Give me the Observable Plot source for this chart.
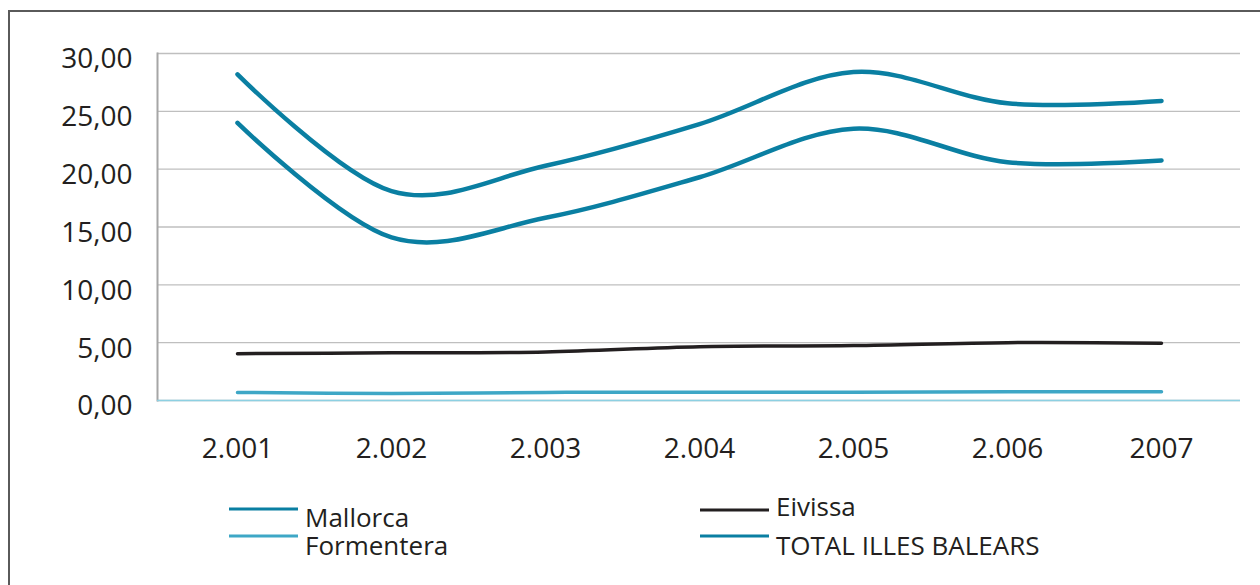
<!DOCTYPE html>
<html>
<head>
<meta charset="utf-8">
<script src="https://cdn.jsdelivr.net/npm/d3@7"></script>
<script src="https://cdn.jsdelivr.net/npm/@observablehq/plot@0.6"></script>
<style>
  html, body { margin: 0; padding: 0; background: #fff; }
  #wrap { position: relative; width: 1260px; height: 585px; overflow: hidden; background: #fff; font-family: "Open Sans", sans-serif; }
  #frame { position: absolute; left: 8px; top: 10px; width: 1300px; height: 700px; border-left: 2px solid #5a5a5a; border-top: 2px solid #5a5a5a; box-sizing: border-box; }
  #chart { position: absolute; left: 0; top: 0; }
  #legend { position: absolute; left: 0; top: 480px; }
</style>
</head>
<body>
<div id="wrap">
  <div id="frame"></div>
  <div id="chart"></div>
  <svg id="legend" width="1260" height="105"></svg>
</div>
<script>
// ---- data ----
const years = ["2.001", "2.002", "2.003", "2.004", "2.005", "2.006", "2007"];
const mallorca   = [24.0, 14.1, 15.8, 19.3, 23.5, 20.6, 20.75];
const eivissa    = [4.05, 4.12, 4.2, 4.65, 4.75, 5.0, 4.95];
const formentera = [0.7, 0.6, 0.7, 0.72, 0.72, 0.75, 0.75];
const total      = [28.2, 18.1, 20.3, 23.9, 28.4, 25.7, 25.9];
const yTicks = [0, 5, 10, 15, 20, 25, 30];
const seriesNames = ["Mallorca", "Eivissa", "Formentera", "TOTAL ILLES BALEARS"];

const series = [
  {name: "Formentera", values: formentera, color: "#3ea7c6", width: 3.5},
  {name: "Eivissa", values: eivissa, color: "#231f20", width: 3.5},
  {name: "Mallorca", values: mallorca, color: "#0a7fa2", width: 4.5},
  {name: "TOTAL ILLES BALEARS", values: total, color: "#0a7fa2", width: 4.5}
];

const rowsOf = s => years.map((y, i) => ({year: y, value: s.values[i], series: s.name}));

const curve = d3.curveCatmullRom.alpha(0);

const chart = Plot.plot({
  width: 1260,
  height: 480,
  marginLeft: 157,
  marginRight: 20,
  marginTop: 53,
  marginBottom: 80,
  style: {fontFamily: "'Open Sans', sans-serif", fontSize: "28px", color: "#231f20", background: "transparent", overflow: "visible"},
  x: {type: "point", domain: years, padding: 0.5, label: null},
  y: {domain: [0, 30], label: null},
  marks: [
    Plot.gridY(yTicks, {stroke: "#bfbfbf", strokeOpacity: 1, strokeWidth: 1.3}),
    Plot.frame({anchor: "left", stroke: "#a6a6a6", strokeWidth: 2}),
    Plot.ruleY([0], {stroke: "#8dd0e2", strokeWidth: 1.6}),
    Plot.axisY(yTicks, {tickSize: 0, tickPadding: 25, dy: 6, fontSize: 28,
      tickFormat: d => d.toFixed(2).replace(".", ",")}),
    Plot.axisX({tickSize: 0, tickPadding: 38, fontSize: 28}),
    ...series.map(s => Plot.line(rowsOf(s), {x: "year", y: "value", stroke: s.color, strokeWidth: s.width, curve}))
  ]
});
document.getElementById("chart").appendChild(chart);

// ---- legend ----
const legendItems = [
  {name: "Mallorca",   color: "#0a7fa2", x: 229, ly: 29, ty: 47},
  {name: "Formentera", color: "#3ea7c6", x: 229, ly: 56, ty: 75},
  {name: "Eivissa",    color: "#231f20", x: 700, ly: 30, ty: 36},
  {name: "TOTAL ILLES BALEARS", color: "#0a7fa2", x: 700, ly: 56, ty: 75}
];
const lg = d3.select("#legend");
legendItems.forEach(it => {
  lg.append("line").attr("x1", it.x).attr("x2", it.x + 69).attr("y1", it.ly).attr("y2", it.ly)
    .attr("stroke", it.color).attr("stroke-width", 3.2);
  lg.append("text").attr("x", it.x + 76).attr("y", it.ty).text(it.name)
    .attr("font-family", "'Open Sans', sans-serif").attr("font-size", 26).attr("fill", "#231f20");
});
</script>
</body>
</html>
